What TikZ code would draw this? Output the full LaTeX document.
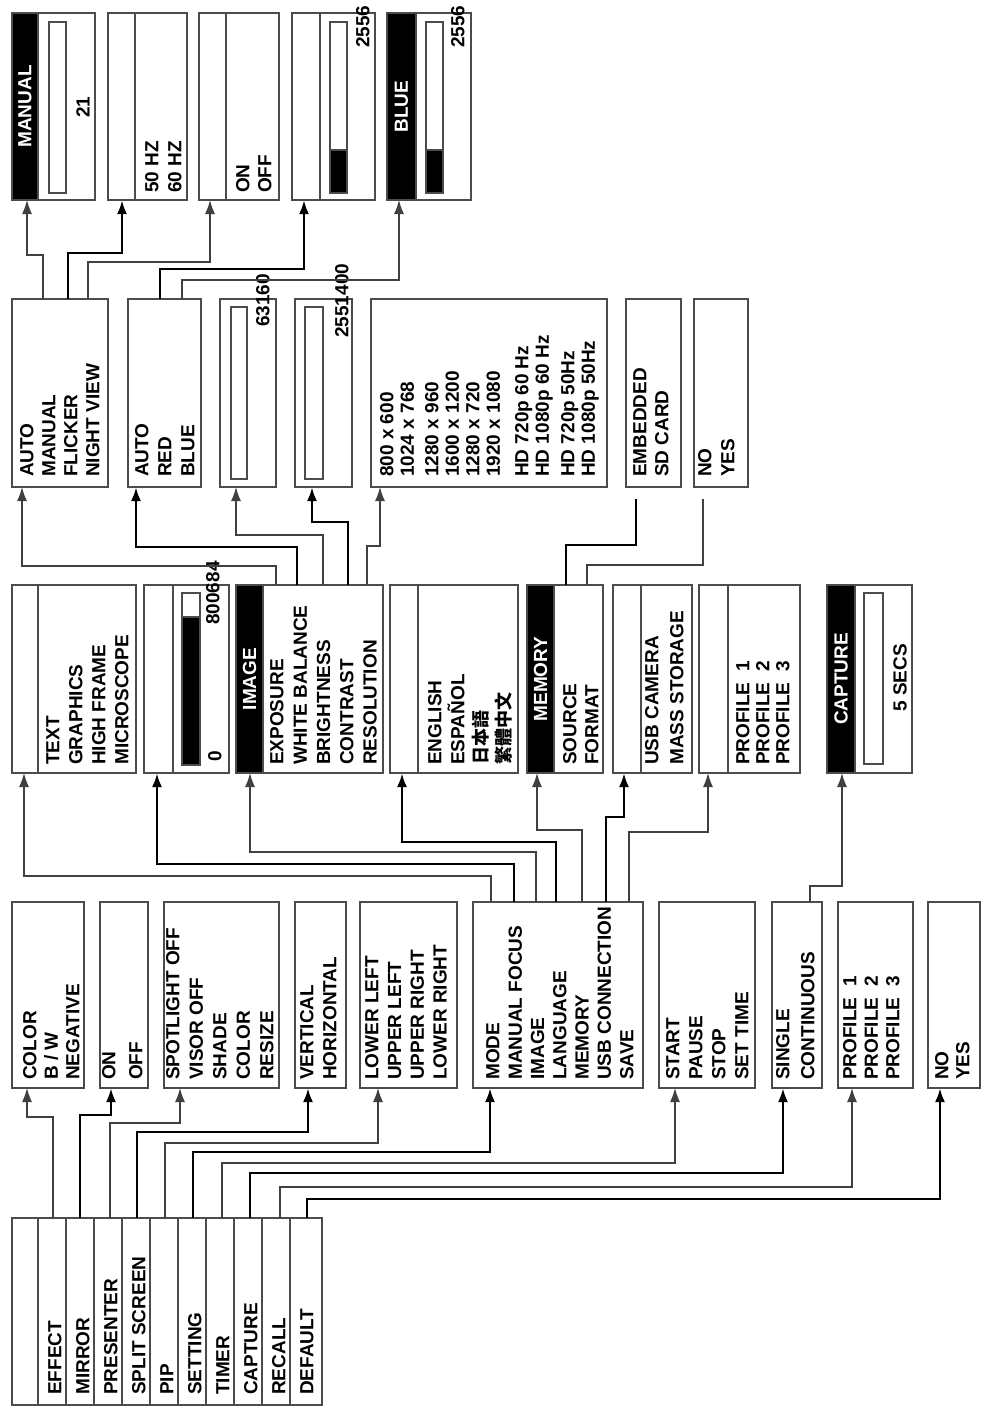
\documentclass[tikz,border=0pt]{standalone}
\usepackage{fontspec}
\setmainfont{Liberation Sans}
\newfontfamily\cjkfont{Noto Sans CJK TC}
\usetikzlibrary{arrows.meta}

\tikzset{
  menubox/.style={draw=black!70, line width=1.3pt, rectangle, inner sep=0pt, outer sep=0pt, anchor=north west},
  head/.style={menubox, fill=black},
  bar/.style={menubox, line width=1.1pt, fill=white},
  barfill/.style={menubox, line width=1.1pt, fill=black},
  divider/.style={draw=black!70, line width=1.3pt},
  items/.style={rotate=90, anchor=north west, align=left, inner sep=0pt, font=\fontsize{19}{22.5}\selectfont\bfseries},
  linegap/.style={font=\fontsize{19}{#1}\selectfont\bfseries},
  headtext/.style={rotate=90, text=white, inner sep=0pt, font=\fontsize{19}{22}\selectfont\bfseries},
  value/.style={rotate=90, inner sep=0pt, font=\fontsize{19}{22}\selectfont\bfseries},
  link/.style={draw=black!75, line width=1.3pt},
  boldlink/.style={draw=black, line width=2.8pt},
  arr/.style={-{Latex[length=14pt,width=10pt]}}
}

\begin{document}
\begin{tikzpicture}[x=1pt, y=-1pt]
  \useasboundingbox (0,0) rectangle (984,1409);
  \clip (0,0) rectangle (984,1409);

  % Main menu
  \node[menubox, minimum width=310pt, minimum height=187pt] (menu) at (12,1218) {};
  \foreach \i in {0,...,9}
    \draw[divider] ([xshift=26pt+28*\i pt]menu.north west) -- ([xshift=26pt+28*\i pt]menu.south west);
  \node[items, linegap=28] (menutxt) at (48,1395)
    {EFFECT\\MIRROR\\PRESENTER\\SPLIT SCREEN\\PIP\\SETTING\\TIMER\\CAPTURE\\RECALL\\DEFAULT};

  % Second level
  \node[menubox, minimum width=72pt, minimum height=186pt] (effbox) at (12,902) {};
  \node[items, linegap=21.5] (efftxt) at (23,1080) {COLOR\\B / W\\NEGATIVE};
  \node[menubox, minimum width=48pt, minimum height=186pt] (mirbox) at (100,902) {};
  \node[items, linegap=27] (mirtxt) at (102,1080) {ON\\OFF};
  \node[menubox, minimum width=115pt, minimum height=186pt] (spotbox) at (164,902) {};
  \node[items, linegap=23.5] (spottxt) at (166,1080) {SPOTLIGHT OFF\\VISOR OFF\\SHADE\\COLOR\\RESIZE};
  \node[menubox, minimum width=51pt, minimum height=186pt] (vertbox) at (295,902) {};
  \node[items, linegap=23] (verttxt) at (300,1080) {VERTICAL\\HORIZONTAL};
  \node[menubox, minimum width=97pt, minimum height=186pt] (pipbox) at (360,902) {};
  \node[items, linegap=22.7] (piptxt) at (365,1080) {LOWER LEFT\\UPPER LEFT\\UPPER RIGHT\\LOWER RIGHT};
  \node[menubox, minimum width=170pt, minimum height=186pt] (setbox) at (473,902) {};
  \node[items, linegap=22.3] (settxt) at (486,1080)
    {MODE\\MANUAL FOCUS\\IMAGE\\LANGUAGE\\MEMORY\\USB CONNECTION\\SAVE};
  \node[menubox, minimum width=96pt, minimum height=186pt] (timbox) at (659,902) {};
  \node[items, linegap=23] (timtxt) at (666,1080) {START\\PAUSE\\STOP\\SET TIME};
  \node[menubox, minimum width=50pt, minimum height=186pt] (capmbox) at (772,902) {};
  \node[items, linegap=25] (capmtxt) at (776,1080) {SINGLE\\CONTINUOUS};
  \node[menubox, minimum width=75pt, minimum height=186pt] (recbox) at (838,902) {};
  \node[items, linegap=21.5] (rectxt) at (843,1080) {PROFILE\ \ 1\\PROFILE\ \ 2\\PROFILE\ \ 3};
  \node[menubox, minimum width=52pt, minimum height=186pt] (defbox) at (928,902) {};
  \node[items, linegap=21] (deftxt) at (935,1080) {NO\\YES};

  % Third level
  \node[menubox, minimum width=124pt, minimum height=188pt] (modebox) at (12,585) {};
  \draw[divider] ([xshift=26pt]modebox.north west) -- ([xshift=26pt]modebox.south west);
  \node[items, linegap=23] (modetxt) at (46,765) {TEXT\\GRAPHICS\\HIGH FRAME\\MICROSCOPE};
  \node[menubox, minimum width=85pt, minimum height=188pt] (focusbox) at (144,585) {};
  \draw[divider] ([xshift=29pt]focusbox.north west) -- ([xshift=29pt]focusbox.south west);
  \node[bar, minimum width=18pt, minimum height=172pt] (focusbar) at (182,593) {};
  \node[barfill, minimum width=18pt, minimum height=148pt] (focuslevel) at (182,617) {};
  \node[value, anchor=north west] (focusmin) at (208,762) {0};
  \node[value, anchor=north west] (focusmax) at (206,625) {800684};
  \node[menubox, minimum width=147pt, minimum height=188pt] (imgbox) at (236,585) {};
  \node[head, minimum width=27pt, minimum height=188pt] (imghead) at (imgbox.north west) {};
  \node[headtext] (imglabel) at (imghead) {IMAGE};
  \node[items, linegap=23.3] (imgtxt) at (270,765)
    {EXPOSURE\\WHITE BALANCE\\BRIGHTNESS\\CONTRAST\\RESOLUTION};
  \node[menubox, minimum width=128pt, minimum height=188pt] (langbox) at (390,585) {};
  \draw[divider] ([xshift=28pt]langbox.north west) -- ([xshift=28pt]langbox.south west);
  \node[items, linegap=23] (langtxt) at (428,765)
    {ENGLISH\\ESPAÑOL\\{\cjkfont\fontsize{18}{23}\selectfont 日本語}\\{\cjkfont\fontsize{18}{23}\selectfont 繁體中文}};
  \node[menubox, minimum width=76pt, minimum height=188pt] (membox) at (527,585) {};
  \node[head, minimum width=27pt, minimum height=188pt] (memhead) at (membox.north west) {};
  \node[headtext] (memlabel) at (memhead) {MEMORY};
  \node[items, linegap=22] (memtxt) at (563,765) {SOURCE\\FORMAT};
  \node[menubox, minimum width=79pt, minimum height=188pt] (usbbox) at (613,585) {};
  \draw[divider] ([xshift=28pt]usbbox.north west) -- ([xshift=28pt]usbbox.south west);
  \node[items, linegap=25] (usbtxt) at (645,765) {USB CAMERA\\MASS STORAGE};
  \node[menubox, minimum width=101pt, minimum height=188pt] (profbox) at (699,585) {};
  \draw[divider] ([xshift=29pt]profbox.north west) -- ([xshift=29pt]profbox.south west);
  \node[items, linegap=20] (proftxt) at (736,765) {PROFILE\ \ 1\\PROFILE\ \ 2\\PROFILE\ \ 3};
  \node[menubox, minimum width=85pt, minimum height=188pt] (capbox) at (827,585) {};
  \node[head, minimum width=28pt, minimum height=188pt] (caphead) at (capbox.north west) {};
  \node[headtext] (caplabel) at (caphead) {CAPTURE};
  \node[bar, minimum width=19pt, minimum height=171pt] (capbar) at (864,593) {};
  \node[value] (captime) at (900,678) {5 SECS};

  % Fourth level
  \node[menubox, minimum width=96pt, minimum height=188pt] (expbox) at (12,299) {};
  \node[items, linegap=22] (exptxt) at (20,477) {AUTO\\MANUAL\\FLICKER\\NIGHT VIEW};
  \node[menubox, minimum width=73pt, minimum height=188pt] (wbbox) at (128,299) {};
  \node[items, linegap=23] (wbtxt) at (135,477) {AUTO\\RED\\BLUE};
  \node[menubox, minimum width=56pt, minimum height=188pt] (brightbox) at (220,299) {};
  \node[bar, minimum width=16pt, minimum height=172pt] (brightbar) at (231,307) {};
  \node[value, anchor=north west] (brightmax) at (256,327) {63160};
  \node[menubox, minimum width=57pt, minimum height=188pt] (contbox) at (295,299) {};
  \node[bar, minimum width=18pt, minimum height=172pt] (contbar) at (305,307) {};
  \node[value, anchor=north west] (contmax) at (335,338) {2551400};
  \node[menubox, minimum width=236pt, minimum height=188pt] (resbox) at (371,299) {};
  \node[items, linegap=20.5] (restxt) at (380,477)
    {800 x 600\\1024 x 768\\[4pt]1280 x 960\\1600 x 1200\\1280 x 720\\1920 x 1080\\[8pt]HD 720p 60 Hz\\HD 1080p 60 Hz\\[5pt]HD 720p 50Hz\\HD 1080p 50Hz};
  \node[menubox, minimum width=55pt, minimum height=188pt] (srcbox) at (626,299) {};
  \node[items, linegap=22] (srctxt) at (633,477) {EMBEDDED\\SD CARD};
  \node[menubox, minimum width=54pt, minimum height=188pt] (fmtbox) at (694,299) {};
  \node[items, linegap=23] (fmttxt) at (698,477) {NO\\YES};

  % Fifth level
  \node[menubox, minimum width=83pt, minimum height=187pt] (manbox) at (12,13) {};
  \node[head, minimum width=26pt, minimum height=187pt] (manhead) at (manbox.north west) {};
  \node[headtext] (manlabel) at (manhead) {MANUAL};
  \node[bar, minimum width=17pt, minimum height=171pt] (manbar) at (49,22) {};
  \node[value] (manvalue) at (83,107) {21};
  \node[menubox, minimum width=79pt, minimum height=187pt] (flkbox) at (108,13) {};
  \draw[divider] ([xshift=27pt]flkbox.north west) -- ([xshift=27pt]flkbox.south west);
  \node[items, linegap=23] (flktxt) at (145,193) {50 HZ\\60 HZ};
  \node[menubox, minimum width=80pt, minimum height=187pt] (nightbox) at (199,13) {};
  \draw[divider] ([xshift=27pt]nightbox.north west) -- ([xshift=27pt]nightbox.south west);
  \node[items, linegap=22] (nighttxt) at (236,193) {ON\\OFF};
  \node[menubox, minimum width=83pt, minimum height=187pt] (redbox) at (292,13) {};
  \draw[divider] ([xshift=28pt]redbox.north west) -- ([xshift=28pt]redbox.south west);
  \node[bar, minimum width=17pt, minimum height=171pt] (redbar) at (330,22) {};
  \node[barfill, minimum width=17pt, minimum height=43pt] (redlevel) at (330,150) {};
  \node[value, anchor=north west] (redmax) at (356,48) {2556};
  \node[menubox, minimum width=84pt, minimum height=187pt] (bluebox) at (387,13) {};
  \node[head, minimum width=29pt, minimum height=187pt] (bluehead) at (bluebox.north west) {};
  \node[headtext] (bluelabel) at (bluehead) {BLUE};
  \node[bar, minimum width=17pt, minimum height=171pt] (bluebar) at (426,22) {};
  \node[barfill, minimum width=17pt, minimum height=43pt] (bluelevel) at (426,150) {};
  \node[value, anchor=north west] (bluemax) at (451,48) {2556};

  % Main menu to second level
  \draw[link, arr] ([xshift=41pt]menu.north west) -- ++(0pt,101pt) -| ([xshift=15pt]effbox.south west);
  \draw[boldlink, arr] ([xshift=68pt]menu.north west) -- ++(0pt,103pt) -| ([xshift=11pt]mirbox.south west);
  \draw[link, arr] ([xshift=98pt]menu.north west) -- ++(0pt,95pt) -| ([xshift=16pt]spotbox.south west);
  \draw[boldlink, arr] ([xshift=125pt]menu.north west) -- ++(0pt,86pt) -| ([xshift=13pt]vertbox.south west);
  \draw[link, arr] ([xshift=153pt]menu.north west) -- ++(0pt,75pt) -| ([xshift=18pt]pipbox.south west);
  \draw[boldlink, arr] ([xshift=181pt]menu.north west) -- ++(0pt,66pt) -| ([xshift=17pt]setbox.south west);
  \draw[link, arr] ([xshift=210pt]menu.north west) -- ++(0pt,55pt) -| ([xshift=16pt]timbox.south west);
  \draw[boldlink, arr] ([xshift=238pt]menu.north west) -- ++(0pt,45pt) -| ([xshift=11pt]capmbox.south west);
  \draw[link, arr] ([xshift=268pt]menu.north west) -- ++(0pt,31pt) -| ([xshift=14pt]recbox.south west);
  \draw[boldlink, arr] ([xshift=295pt]menu.north west) -- ++(0pt,19pt) -| ([xshift=12pt]defbox.south west);

  % Setting menu to third level
  \draw[link, arr] ([xshift=18pt]setbox.north west) -- ++(0pt,26pt) -| ([xshift=12pt]modebox.south west);
  \draw[boldlink, arr] ([xshift=41pt]setbox.north west) -- ++(0pt,38pt) -| ([xshift=13pt]focusbox.south west);
  \draw[link, arr] ([xshift=63pt]setbox.north west) -- ++(0pt,50pt) -| ([xshift=14pt]imgbox.south west);
  \draw[boldlink, arr] ([xshift=83pt]setbox.north west) -- ++(0pt,60pt) -| ([xshift=12pt]langbox.south west);
  \draw[link, arr] ([xshift=109pt]setbox.north west) -- ++(0pt,72pt) -| ([xshift=10pt]membox.south west);
  \draw[boldlink, arr] ([xshift=133pt]setbox.north west) -- ++(0pt,85pt) -| ([xshift=11pt]usbbox.south west);
  \draw[link, arr] ([xshift=156pt]setbox.north west) -- ++(0pt,70pt) -| ([xshift=9pt]profbox.south west);
  \draw[link, arr] ([xshift=38pt]capmbox.north west) -- ++(0pt,16pt) -| ([xshift=15pt]capbox.south west);

  % Image and memory to fourth level
  \draw[link, arr] ([xshift=40pt]imgbox.north west) -- ++(0pt,19pt) -| ([xshift=10pt]expbox.south west);
  \draw[boldlink, arr] ([xshift=61pt]imgbox.north west) -- ++(0pt,38pt) -| ([xshift=8pt]wbbox.south west);
  \draw[link, arr] ([xshift=87pt]imgbox.north west) -- ++(0pt,50pt) -| ([xshift=16pt]brightbox.south west);
  \draw[boldlink, arr] ([xshift=112pt]imgbox.north west) -- ++(0pt,63pt) -| ([xshift=17pt]contbox.south west);
  \draw[link, arr] ([xshift=131pt]imgbox.north west) -- ++(0pt,39pt) -| ([xshift=9pt]resbox.south west);
  \draw[boldlink] ([xshift=39pt]membox.north west) -- ++(0pt,40pt) -| ([xshift=10pt,yshift=-12pt]srcbox.south west);
  \draw[link] ([xshift=60pt]membox.north west) -- ++(0pt,20pt) -| ([xshift=9pt,yshift=-12pt]fmtbox.south west);

  % Exposure and white balance to fifth level
  \draw[link, arr] ([xshift=31pt]expbox.north west) -- ++(0pt,44pt) -| ([xshift=15pt]manbox.south west);
  \draw[boldlink, arr] ([xshift=56pt]expbox.north west) -- ++(0pt,46pt) -| ([xshift=14pt]flkbox.south west);
  \draw[link, arr] ([xshift=76pt]expbox.north west) -- ++(0pt,37pt) -| ([xshift=11pt]nightbox.south west);
  \draw[boldlink, arr] ([xshift=32pt]wbbox.north west) -- ++(0pt,30pt) -| ([xshift=12pt]redbox.south west);
  \draw[link, arr] ([xshift=54pt]wbbox.north west) -- ++(0pt,19pt) -| ([xshift=12pt]bluebox.south west);
\end{tikzpicture}
\end{document}
